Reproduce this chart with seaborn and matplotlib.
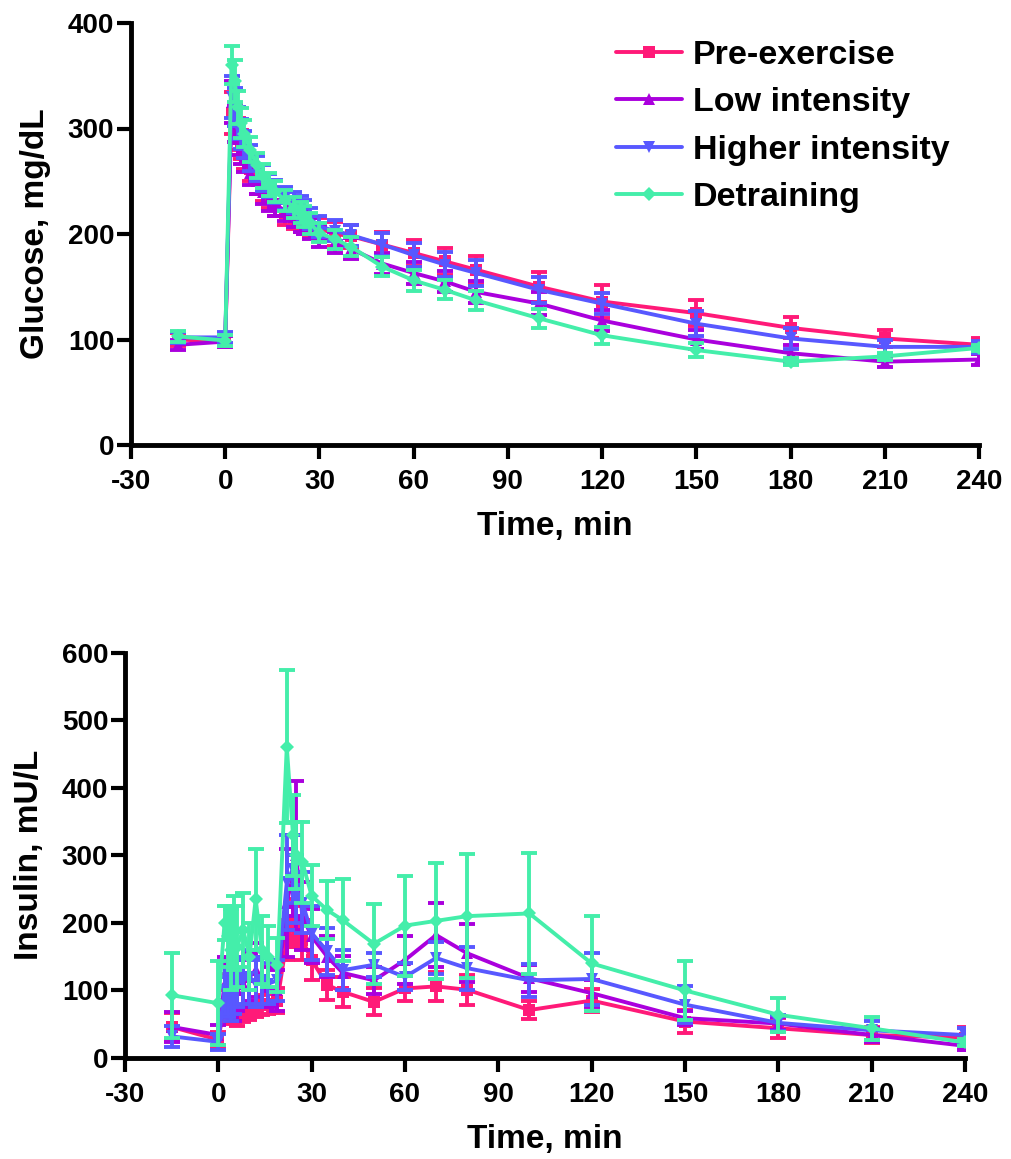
import numpy as np
import pandas as pd
import seaborn as sns
import matplotlib
matplotlib.use("Agg")
import matplotlib.pyplot as plt

# ---------------- data ----------------
time = [-15, 0, 2, 3, 4, 5, 6, 8, 10, 12, 14, 16, 19, 22, 24, 25, 27, 30, 35,
        40, 50, 60, 70, 80, 100, 120, 150, 180, 210, 240]

groups = ["Pre-exercise", "Low intensity", "Higher intensity", "Detraining"]

glucose_pre = [100, 98, 315, 305, 295, 285, 275, 262, 250, 243, 236, 228, 220, 215, 212, 210, 207, 205, 200,
               198, 190, 182, 174, 166, 150, 136, 125, 111, 101, 95]
glucose_low = [95, 98, 325, 305, 290, 280, 272, 258, 250, 240, 233, 228, 222, 217, 212, 210, 205, 198, 192,
               186, 172, 163, 155, 145, 134, 118, 100, 87, 79, 81]
glucose_high = [102, 102, 330, 320, 305, 295, 285, 272, 262, 253, 246, 240, 234, 230, 226, 222, 215, 207, 203,
                199, 190, 180, 171, 163, 147, 134, 115, 101, 93, 93]
glucose_det = [103, 99, 360, 345, 320, 305, 295, 280, 265, 255, 247, 240, 232, 225, 220, 217, 210, 201, 195,
               188, 169, 156, 147, 137, 120, 104, 90, 79, 84, 92]

glucose_pre_sem = [6, 5, 20, 18, 15, 14, 13, 12, 12, 12, 11, 11, 11, 10, 10, 10, 10, 10, 11,
                   11, 12, 12, 13, 13, 14, 16, 12, 10, 8, 6]
glucose_low_sem = [5, 5, 20, 18, 15, 14, 13, 12, 12, 12, 11, 11, 10, 10, 10, 10, 10, 10, 10,
                   10, 10, 10, 10, 10, 11, 10, 9, 8, 5, 5]
glucose_high_sem = [5, 5, 20, 18, 15, 14, 13, 12, 12, 12, 11, 11, 11, 10, 10, 10, 10, 10, 10,
                    10, 11, 11, 12, 12, 12, 10, 12, 10, 7, 6]
glucose_det_sem = [5, 5, 18, 20, 16, 14, 13, 12, 12, 11, 11, 10, 10, 10, 10, 10, 10, 9, 9,
                   9, 9, 10, 9, 9, 9, 8, 7, 3, 3, 3]

insulin_pre = [46, 27, 80, 70, 65, 62, 60, 65, 68, 72, 78, 80, 85, 175, 200, 195, 175, 145, 108,
               98, 83, 103, 106, 101, 71, 85, 54, 44, 34, 30]
insulin_low = [46, 34, 110, 95, 90, 85, 100, 110, 120, 130, 115, 105, 100, 230, 270, 300, 210, 180, 150,
               126, 115, 145, 182, 155, 118, 96, 59, 51, 34, 18]
insulin_high = [32, 24, 100, 90, 85, 95, 110, 115, 120, 110, 115, 110, 115, 260, 280, 250, 230, 185, 158,
                130, 138, 120, 148, 133, 115, 117, 79, 52, 41, 34]
insulin_det = [93, 81, 200, 180, 160, 185, 165, 190, 150, 235, 160, 150, 138, 461, 330, 300, 290, 240, 219,
               204, 169, 196, 203, 210, 214, 140, 100, 64, 44, 23]

insulin_pre_sem = [20, 12, 20, 15, 12, 12, 12, 12, 12, 12, 15, 15, 18, 30, 35, 30, 30, 30, 22,
                   22, 20, 18, 22, 22, 14, 17, 17, 15, 12, 16]
insulin_low_sem = [22, 15, 40, 30, 30, 30, 30, 35, 35, 40, 35, 30, 30, 80, 60, 110, 50, 40, 30,
                   25, 20, 36, 47, 43, 20, 20, 10, 10, 10, 6]
insulin_high_sem = [15, 12, 35, 30, 30, 30, 35, 35, 40, 35, 35, 30, 30, 70, 50, 50, 45, 40, 35,
                    30, 18, 20, 23, 32, 24, 38, 27, 12, 14, 10]
insulin_det_sem = [63, 62, 25, 45, 60, 55, 60, 55, 50, 75, 50, 45, 40, 113, 60, 50, 60, 45, 43,
                   61, 59, 74, 86, 92, 89, 70, 44, 25, 17, 5]

glucose_yticks = [0, 100, 200, 300, 400]
insulin_yticks = [0, 100, 200, 300, 400, 500, 600]
xticks = [-30, 0, 30, 60, 90, 120, 150, 180, 210, 240]

# ---------------- style ----------------
sns.set_style("ticks")
plt.rcParams['font.family'] = ['Liberation Sans', 'DejaVu Sans']
plt.rcParams['font.weight'] = 'bold'
plt.rcParams['axes.unicode_minus'] = False
plt.rcParams['text.color'] = 'black'
plt.rcParams['axes.labelcolor'] = 'black'
plt.rcParams['xtick.color'] = 'black'
plt.rcParams['ytick.color'] = 'black'

colors = {"Pre-exercise": "#FF1A78", "Low intensity": "#AA00DD",
          "Higher intensity": "#5858FF", "Detraining": "#44EEAA"}
markers = {"Pre-exercise": "s", "Low intensity": "^",
           "Higher intensity": "v", "Detraining": "D"}
msizes = {"Pre-exercise": 8.5, "Low intensity": 9, "Higher intensity": 9, "Detraining": 7}


def make_df(vals, sems):
    rows = []
    for g, v, s in zip(groups, vals, sems):
        for t, y, e in zip(time, v, s):
            rows.append({"time": t, "value": y, "err": e, "group": g})
    return pd.DataFrame(rows)


df_glu = make_df([glucose_pre, glucose_low, glucose_high, glucose_det],
                 [glucose_pre_sem, glucose_low_sem, glucose_high_sem, glucose_det_sem])
df_ins = make_df([insulin_pre, insulin_low, insulin_high, insulin_det],
                 [insulin_pre_sem, insulin_low_sem, insulin_high_sem, insulin_det_sem])

fig = plt.figure(figsize=(10.11, 11.59), dpi=100)
ax1 = fig.add_axes([131 / 1011, 1 - 445 / 1159, (979 - 131) / 1011, (445 - 23) / 1159])
ax2 = fig.add_axes([125 / 1011, 1 - 1058 / 1159, (965 - 125) / 1011, (1058 - 652.7) / 1159])


def draw(ax, df, ylim, yticks, ylabel):
    for i, g in enumerate(groups):
        sub = df[df.group == g]
        ax.errorbar(sub["time"], sub["value"], yerr=sub["err"], fmt='none', ecolor=colors[g],
                    elinewidth=2.8, capsize=6, capthick=2.8, zorder=2 + 2 * i)
        sns.lineplot(data=sub, x="time", y="value", ax=ax, color=colors[g],
                     marker=markers[g], markersize=msizes[g], markeredgewidth=0,
                     linewidth=2.8, label=g, zorder=3 + 2 * i, errorbar=None)
    ax.set_xlim(-30, 240)
    ax.set_ylim(*ylim)
    ax.set_xticks(xticks)
    ax.set_yticks(yticks)
    ax.tick_params(axis='both', which='major', length=10, width=3, labelsize=20, color='black',
                   labelcolor='black')
    ax.tick_params(axis='x', pad=7)
    ax.tick_params(axis='y', pad=2)
    for lab in ax.get_xticklabels() + ax.get_yticklabels():
        lab.set_fontweight('bold')
    sns.despine(ax=ax)
    for sp in ['left', 'bottom']:
        ax.spines[sp].set_linewidth(3.5)
        ax.spines[sp].set_color('black')
    ax.set_xlabel("Time, min", fontsize=24, fontweight='bold', labelpad=12, color='black')
    ax.set_ylabel(ylabel, fontsize=24, fontweight='bold', labelpad=12, color='black')


draw(ax1, df_glu, (0, 400), glucose_yticks, "Glucose, mg/dL")
draw(ax2, df_ins, (0, 600), insulin_yticks, "Insulin, mU/L")

ax2.get_legend().remove()
h, l = ax1.get_legend_handles_labels()
ax1.get_legend().remove()
ax1.legend(h, l, loc='upper left', bbox_to_anchor=(616 / 1011, 1 - 40 / 1159),
           bbox_transform=fig.transFigure, frameon=False,
           handlelength=1.95, handletextpad=0.3, labelspacing=0.48, borderpad=0,
           borderaxespad=0, prop={'weight': 'bold', 'size': 24.5})

fig.savefig("out.png", dpi=100)
